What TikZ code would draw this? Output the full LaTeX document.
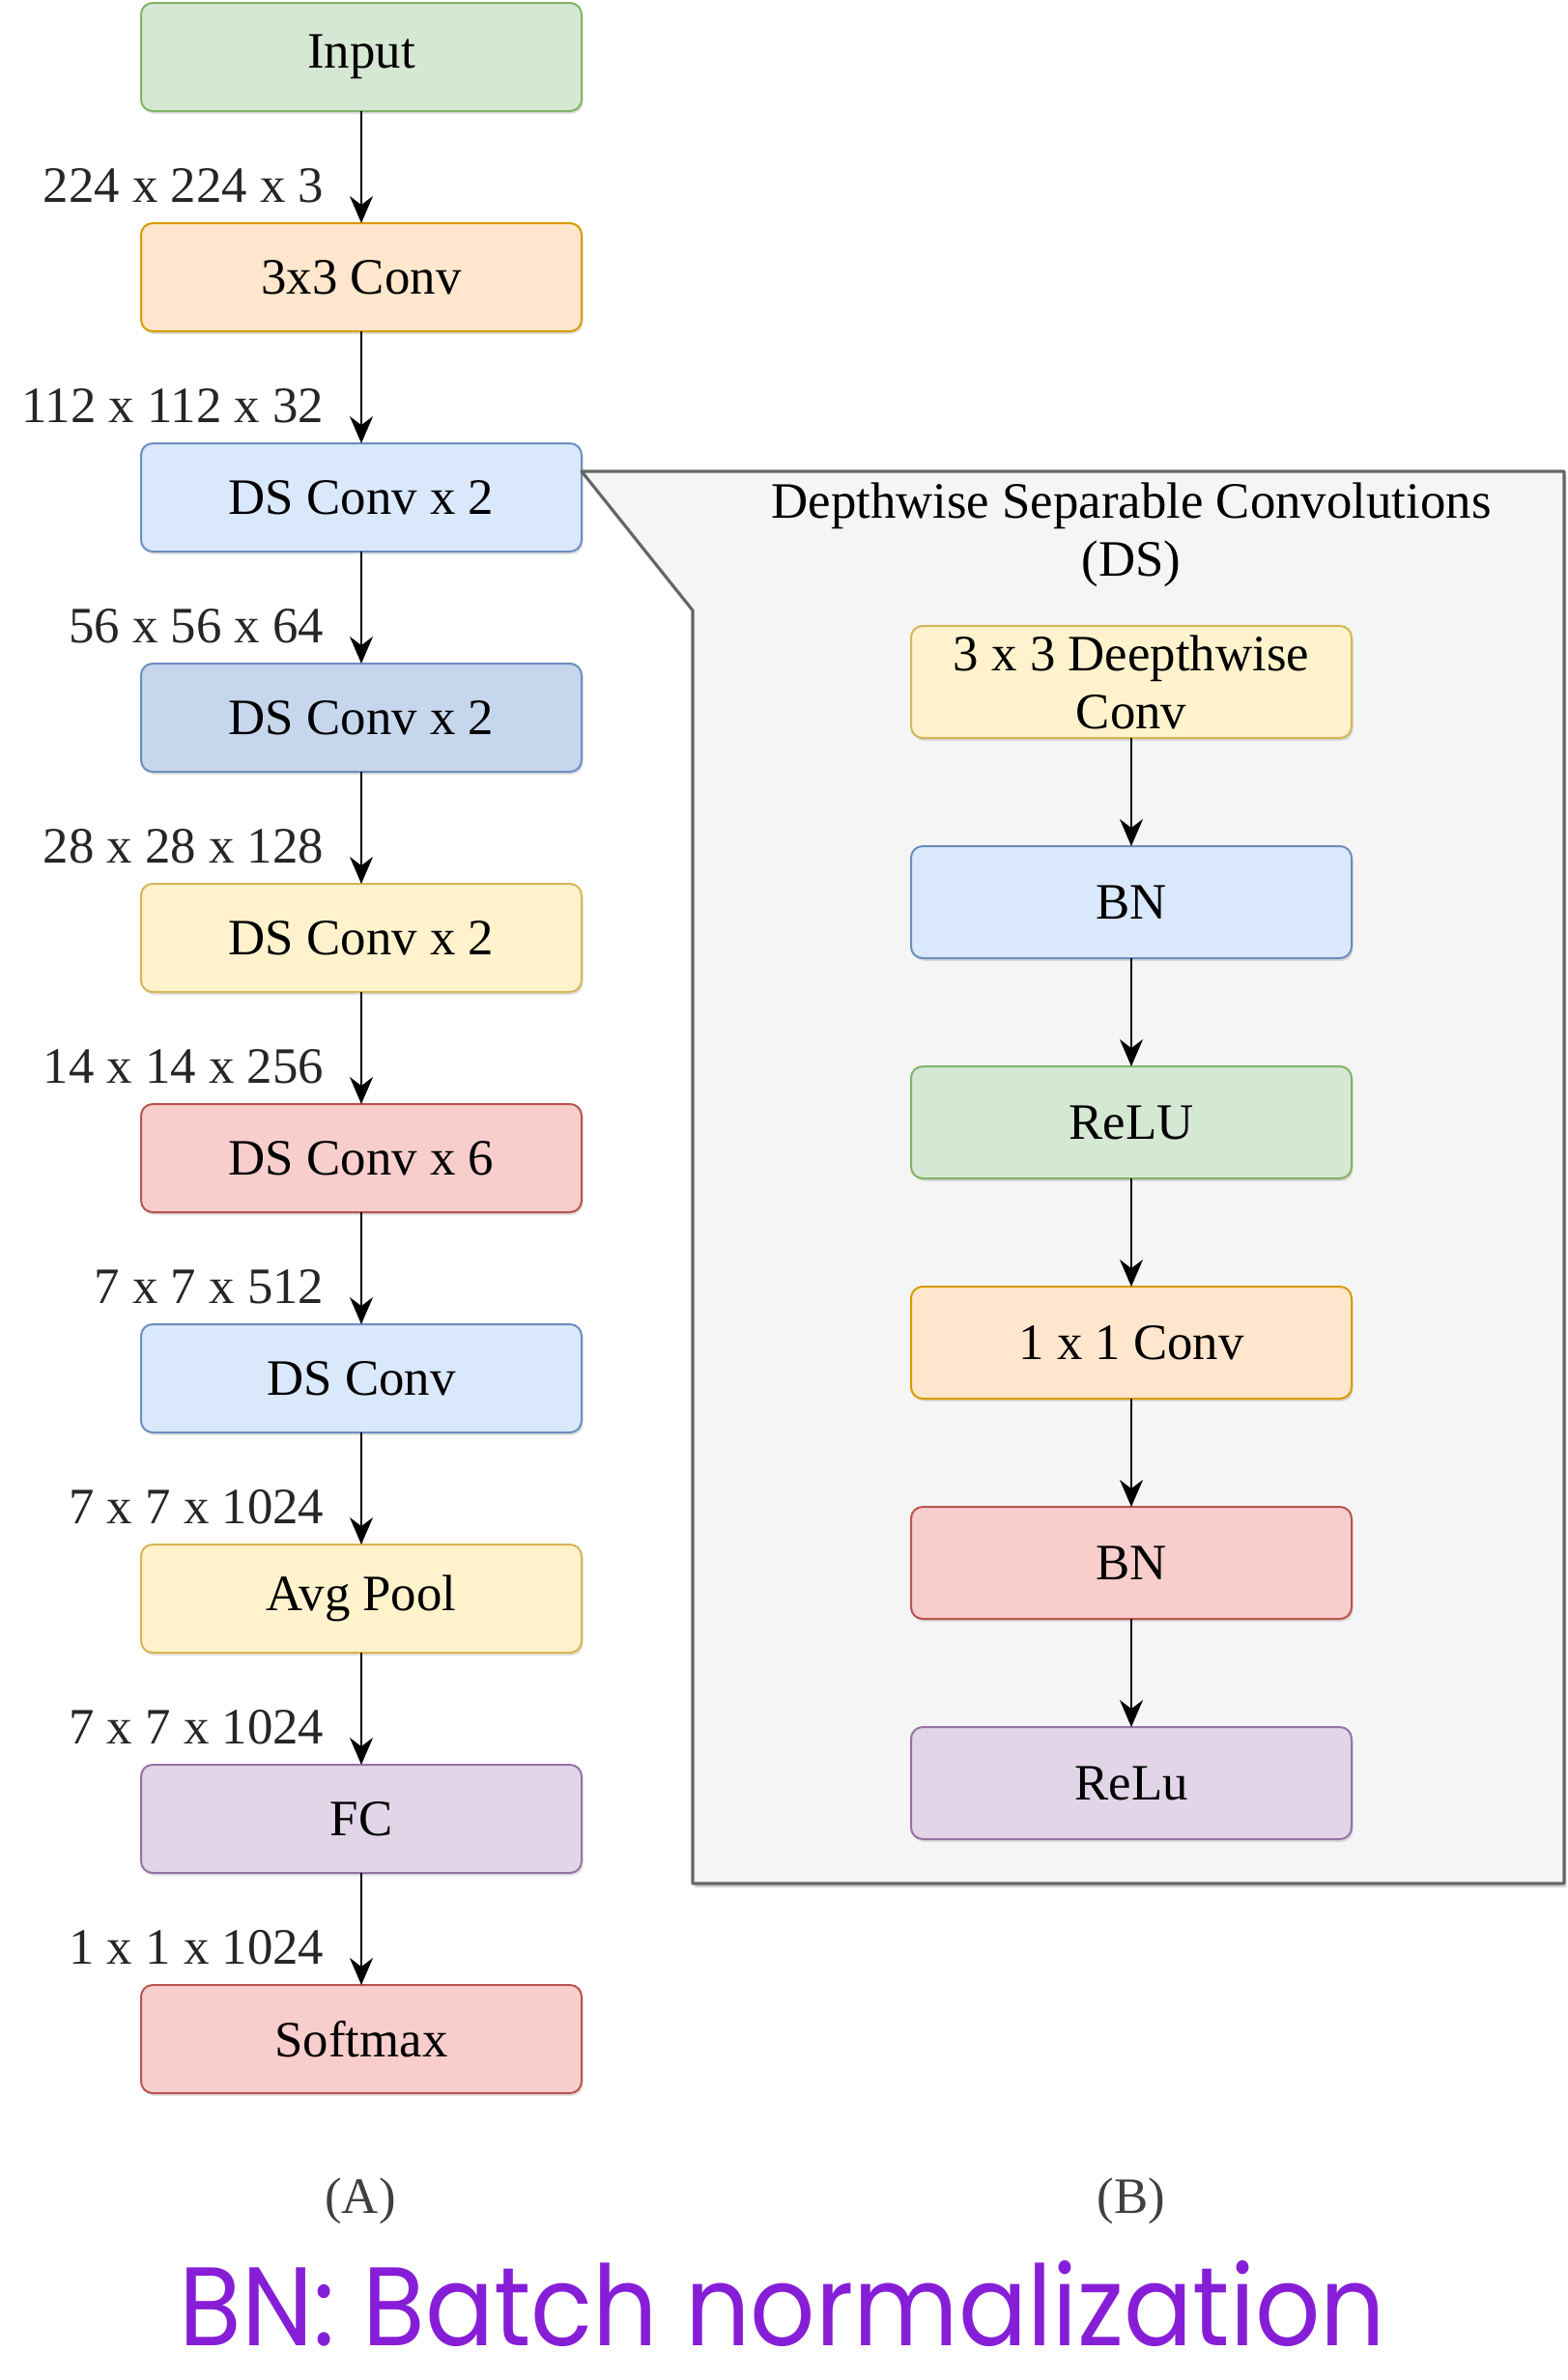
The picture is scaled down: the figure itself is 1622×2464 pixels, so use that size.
\documentclass[tikz,border=0pt]{standalone}
\usepackage{fontspec}
\usepackage{graphicx}
\setmainfont{Liberation Serif}
\newfontfamily\notefont{Poppins}
\usetikzlibrary{arrows.meta,shadows}

\definecolor{grnfill}{HTML}{D5E8D4}
\definecolor{grnline}{HTML}{82B366}
\definecolor{orgfill}{HTML}{FFE6CC}
\definecolor{orgline}{HTML}{D79B00}
\definecolor{blufill}{HTML}{DAE8FC}
\definecolor{bluline}{HTML}{6C8EBF}
\definecolor{dblfill}{HTML}{C6D6EC}
\definecolor{dblline}{HTML}{6C8EBF}
\definecolor{ylwfill}{HTML}{FFF2CC}
\definecolor{ylwline}{HTML}{D6B656}
\definecolor{redfill}{HTML}{F8CECC}
\definecolor{redline}{HTML}{B85450}
\definecolor{prpfill}{HTML}{E1D5E7}
\definecolor{prpline}{HTML}{9673A6}
\definecolor{panelfill}{HTML}{F5F5F5}
\definecolor{panelline}{HTML}{666666}
\definecolor{notecol}{RGB}{135,30,215}

\begin{document}
\begin{tikzpicture}[x=0.25pt, y=-0.25pt, line join=round, >={Stealth[length=7pt,width=6pt]},
		font=\fontsize{13.2}{15}\selectfont,
		blk/.style={draw=#1line, fill=#1fill, line width=0.5pt, rounded corners=3pt, outer sep=0pt,
			minimum width=114pt, minimum height=28pt, inner sep=1pt, align=center,
			drop shadow={shadow xshift=0.4pt, shadow yshift=-0.7pt, opacity=0.25}},
		dimlbl/.style={anchor=east, inner sep=0pt, text=black!85},
		flow/.style={->, line width=0.6pt}]
	\useasboundingbox (0,0) rectangle (1622,2464);
	
	\node[blk=grn] (a0) at (374,59) {Input};
	\foreach \i/\t/\c/\d in {1/3x3 Conv/org/224 x 224 x 3, 2/DS Conv x 2/blu/112 x 112 x 32,
		3/DS Conv x 2/dbl/56 x 56 x 64, 4/DS Conv x 2/ylw/28 x 28 x 128, 5/DS Conv x 6/red/14 x 14 x 256,
		6/DS Conv/blu/7 x 7 x 512, 7/Avg Pool/ylw/7 x 7 x 1024, 8/FC/prp/7 x 7 x 1024, 9/Softmax/red/1 x 1 x 1024} {
		\pgfmathsetmacro{\y}{59+228*\i}
		\pgfmathtruncatemacro{\j}{\i-1}
		\node[blk=\c] (a\i) at (374,\y) {\t};
		\draw[flow] (a\j) -- (a\i);
		\node[dimlbl] (d\i) at (336,\y-95) {\d};
	}
	
	\filldraw[fill=panelfill, draw=panelline, line width=0.8pt,
		drop shadow={shadow xshift=0.6pt, shadow yshift=-1pt, opacity=0.35}]
		([yshift=-7.25pt]a2.north east) -- (1619,488) -- (1619,1950) -- (717,1950) -- (717,632) -- cycle;
	\node[align=center] (ttl) at (1171,554) {Depthwise Separable Convolutions\\(DS)};
	
	\foreach \i/\t/\c in {0/{3 x 3 Deepthwise\\Conv}/ylw, 1/BN/blu, 2/ReLU/grn, 3/1 x 1 Conv/org, 4/BN/red, 5/ReLu/prp} {
		\pgfmathsetmacro{\y}{706+228*\i}
		\node[blk=\c, minimum height=29pt] (b\i) at (1171,\y) {\t};
		\ifnum\i>0
		\pgfmathtruncatemacro{\j}{\i-1}
		\draw[flow] (b\j) -- (b\i);
		\fi
	}
	
	\node[text=black!75] (capA) at (373,2279) {(A)};
	\node[text=black!75] (capB) at (1171,2279) {(B)};
	\node[text=notecol, anchor=base, inner sep=0pt] (note) at (810,2428) {\resizebox{312pt}{22pt}{\notefont BN: Batch normalization}};
\end{tikzpicture}
\end{document}
